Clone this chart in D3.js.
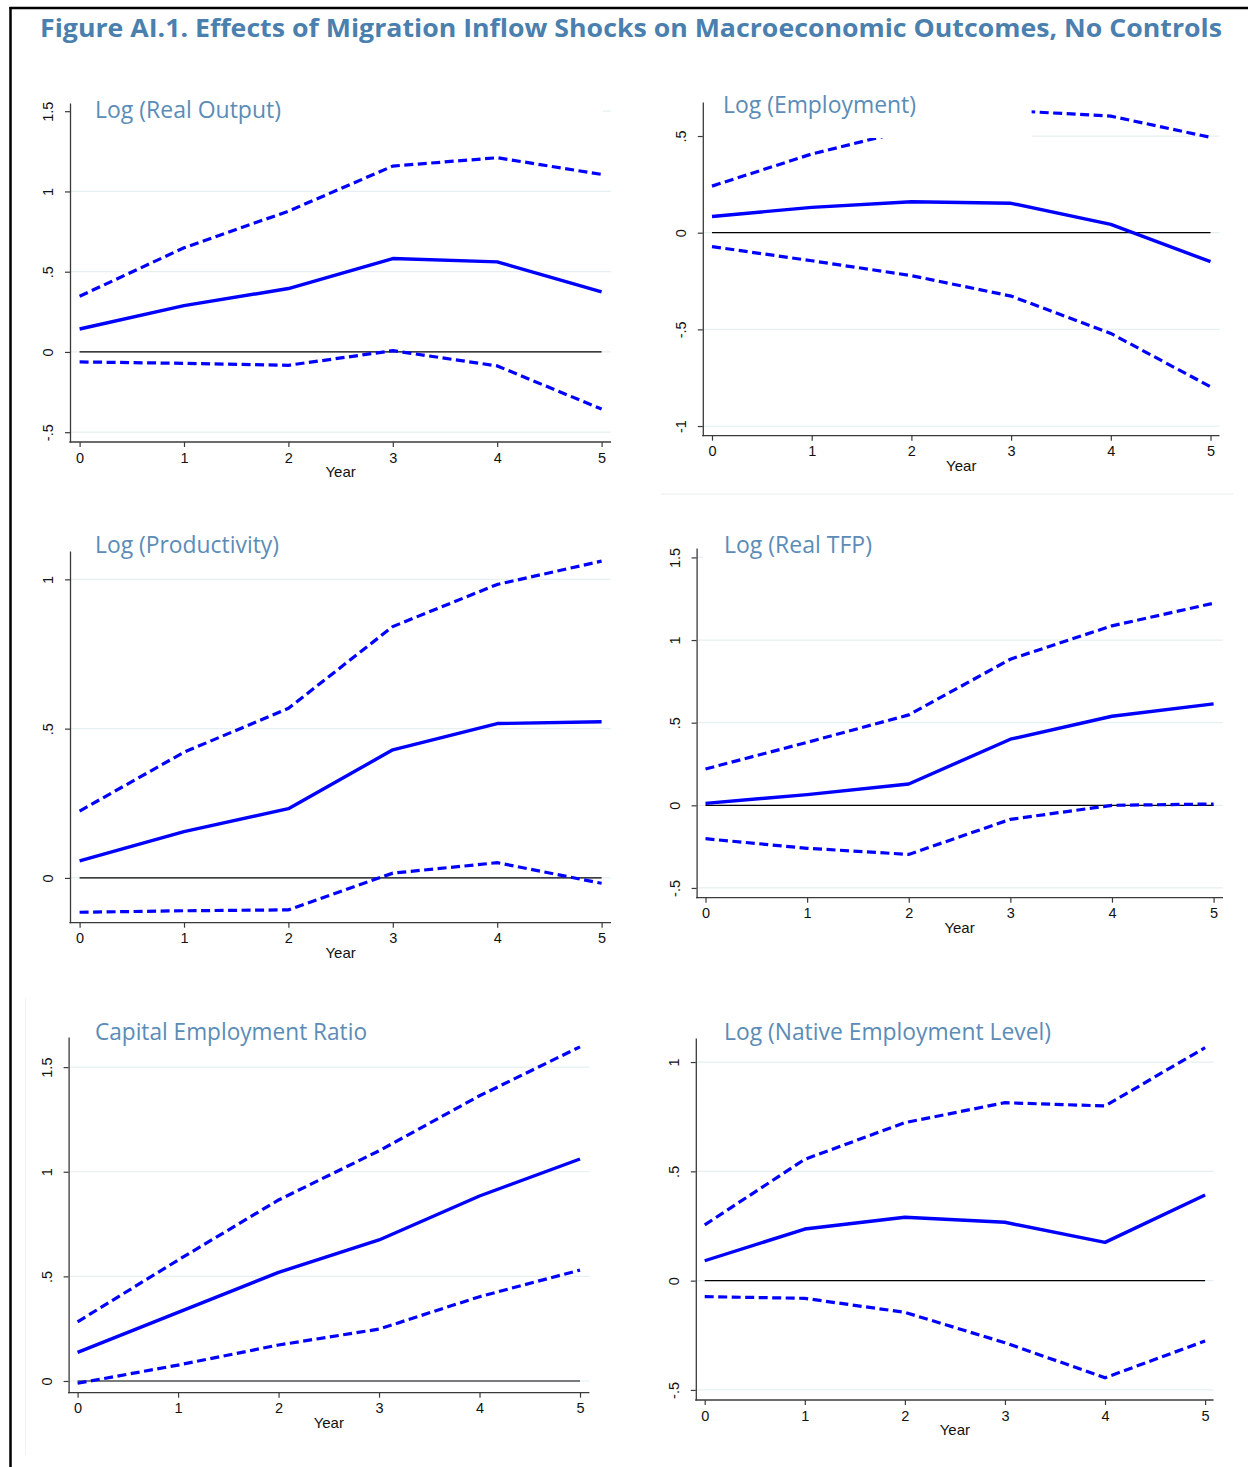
<!DOCTYPE html>
<html>
<head>
<meta charset="utf-8">
<script src="https://cdn.jsdelivr.net/npm/d3@7"></script>
<style>
  html, body { margin: 0; padding: 0; background: #ffffff; }
  svg { display: block; }
</style>
</head>
<body>
<script>
// ---------------- DATA ----------------
const years = [0, 1, 2, 3, 4, 5];

const figureTitle = "Figure AI.1. Effects of Migration Inflow Shocks on Macroeconomic Outcomes, No Controls";
const panelTitles = [
  "Log (Real Output)",
  "Log (Employment)",
  "Log (Productivity)",
  "Log (Real TFP)",
  "Capital Employment Ratio",
  "Log (Native Employment Level)"
];
const xAxisLabel = "Year";

const realOutputEst   = [0.143, 0.289, 0.395, 0.582, 0.561, 0.374];
const realOutputUpper = [0.347, 0.649, 0.877, 1.158, 1.210, 1.106];
const realOutputLower = [-0.062, -0.071, -0.083, 0.008, -0.087, -0.356];

const employmentEst   = [0.084, 0.131, 0.160, 0.152, 0.043, -0.150];
const employmentUpper = [0.241, 0.407, 0.534, 0.631, 0.603, 0.493];
const employmentLower = [-0.072, -0.145, -0.222, -0.328, -0.521, -0.797];

const productivityEst   = [0.057, 0.155, 0.232, 0.429, 0.517, 0.523];
const productivityUpper = [0.224, 0.421, 0.568, 0.842, 0.983, 1.061];
const productivityLower = [-0.115, -0.110, -0.107, 0.016, 0.051, -0.018];

const tfpEst   = [0.012, 0.065, 0.129, 0.400, 0.539, 0.614];
const tfpUpper = [0.220, 0.381, 0.547, 0.884, 1.086, 1.223];
const tfpLower = [-0.202, -0.260, -0.297, -0.085, 0.000, 0.008];

const capEmpEst   = [0.137, 0.328, 0.519, 0.674, 0.884, 1.061];
const capEmpUpper = [0.283, 0.578, 0.865, 1.100, 1.363, 1.597];
const capEmpLower = [-0.011, 0.076, 0.172, 0.248, 0.403, 0.530];

const nativeEst   = [0.091, 0.236, 0.290, 0.267, 0.175, 0.392];
const nativeUpper = [0.255, 0.555, 0.723, 0.814, 0.799, 1.066];
const nativeLower = [-0.073, -0.081, -0.145, -0.284, -0.444, -0.276];

const yTicksList = [
  [-0.5, 0, 0.5, 1, 1.5],
  [-1, -0.5, 0, 0.5],
  [0, 0.5, 1],
  [-0.5, 0, 0.5, 1, 1.5],
  [0, 0.5, 1, 1.5],
  [-0.5, 0, 0.5, 1]
];
const yDomains = [
  [-0.561, 1.551],
  [-1.050, 0.676],
  [-0.150, 1.095],
  [-0.559, 1.557],
  [-0.056, 1.644],
  [-0.546, 1.110]
];
const seriesList = [
  [realOutputEst, realOutputUpper, realOutputLower],
  [employmentEst, employmentUpper, employmentLower],
  [productivityEst, productivityUpper, productivityLower],
  [tfpEst, tfpUpper, tfpLower],
  [capEmpEst, capEmpUpper, capEmpLower],
  [nativeEst, nativeUpper, nativeLower]
];

// ---------------- LAYOUT ----------------
const W = 1248, H = 1467;
const layouts = [
  { yAxisX: 70,    x0: 79.6,  x5: 601.6,  xEnd: 611,    top: 103,  bottom: 442,    titleX: 95,  titleY: 118,  titleW: 186,
    mask: { x: 71, y: 60, w: 532, h: 53 } },
  { yAxisX: 702.8, x0: 712,   x5: 1210.5, xEnd: 1219.5, top: 102,  bottom: 435.7,  titleX: 723, titleY: 113,  titleW: 193,
    mask: { x: 703.6, y: 60, w: 328, h: 78 } },
  { yAxisX: 70,    x0: 79.6,  x5: 601.6,  xEnd: 611,    top: 551,  bottom: 922.7,  titleX: 95,  titleY: 553,  titleW: 184,
    mask: null },
  { yAxisX: 696.6, x0: 705.5, x5: 1213.6, xEnd: 1223,   top: 548,  bottom: 897.7,  titleX: 724, titleY: 553,  titleW: 148,
    mask: { x: 703, y: 520, w: 522, h: 40 } },
  { yAxisX: 68.6,  x0: 77.6,  x5: 580,    xEnd: 589.4,  top: 1037, bottom: 1392.7, titleX: 95,  titleY: 1040, titleW: 272,
    mask: null },
  { yAxisX: 695.8, x0: 704.7, x5: 1205.1, xEnd: 1213.6, top: 1038, bottom: 1400,   titleX: 724, titleY: 1040, titleW: 327,
    mask: null }
];

const BLUE = "#0000ff";
const GRID = "#e6eff2";
const AXIS = "#3a3a3a";
const TITLE_BLUE = "#4a7fae";
const PANEL_BLUE = "#5b8cb7";
const TICK_FONT = "'Liberation Sans', Arial, sans-serif";
const TITLE_FONT = "'Open Sans', 'Noto Sans', sans-serif";

const fmt = d => d === 0 ? "0" : String(d).replace(/^(-?)0\./, "$1.");

const svg = d3.select("body").append("svg")
  .attr("width", W).attr("height", H)
  .attr("viewBox", `0 0 ${W} ${H}`);

svg.append("rect").attr("width", W).attr("height", H).attr("fill", "#ffffff");

// faint separators
svg.append("line").attr("x1", 661).attr("x2", 1233).attr("y1", 494).attr("y2", 494)
  .attr("stroke", "#e9eef0").attr("stroke-width", 1);
svg.append("line").attr("x1", 25.5).attr("x2", 25.5).attr("y1", 998).attr("y2", 1455)
  .attr("stroke", "#eef2f3").attr("stroke-width", 1);

// figure border (top + left)
svg.append("line").attr("x1", 9.5).attr("x2", W).attr("y1", 8).attr("y2", 8)
  .attr("stroke", "#000").attr("stroke-width", 2.5);
svg.append("line").attr("x1", 10.5).attr("x2", 10.5).attr("y1", 7).attr("y2", H)
  .attr("stroke", "#000").attr("stroke-width", 2.5);

// main title
svg.append("text")
  .attr("x", 40).attr("y", 37)
  .attr("font-family", TITLE_FONT)
  .attr("font-weight", 700)
  .attr("font-size", 25.5)
  .attr("fill", TITLE_BLUE)
  .attr("textLength", 1182)
  .attr("lengthAdjust", "spacingAndGlyphs")
  .text(figureTitle);

layouts.forEach((L, i) => {
  const g = svg.append("g");
  const x = d3.scaleLinear().domain([0, 5]).range([L.x0, L.x5]);
  const y = d3.scaleLinear().domain(yDomains[i]).range([L.bottom, L.top]);
  const ticks = yTicksList[i];

  // gridlines
  g.append("g").selectAll("line").data(ticks).join("line")
    .attr("x1", L.yAxisX).attr("x2", L.xEnd)
    .attr("y1", d => y(d)).attr("y2", d => y(d))
    .attr("stroke", GRID).attr("stroke-width", 1.2);

  // zero reference line
  g.append("line")
    .attr("x1", x(0)).attr("x2", x(5))
    .attr("y1", y(0)).attr("y2", y(0))
    .attr("stroke", "#000").attr("stroke-width", 1.2);

  // series
  const line = d3.line().x((d, j) => x(years[j])).y(d => y(d));
  const [est, up, lo] = seriesList[i];
  [up, lo].forEach(s => {
    g.append("path").datum(s).attr("d", line)
      .attr("fill", "none").attr("stroke", BLUE)
      .attr("stroke-width", 3.2)
      .attr("stroke-dasharray", "9,4.5");
  });
  g.append("path").datum(est).attr("d", line)
    .attr("fill", "none").attr("stroke", BLUE)
    .attr("stroke-width", 3.4)
    .attr("stroke-linejoin", "round");

  // mask (white title box region)
  if (L.mask) {
    g.append("rect").attr("x", L.mask.x).attr("y", L.mask.y)
      .attr("width", L.mask.w).attr("height", L.mask.h).attr("fill", "#ffffff");
  }

  // y axis
  const yAx = g.append("g")
    .attr("transform", `translate(${L.yAxisX},0)`)
    .call(d3.axisLeft(y).tickValues(ticks).tickFormat(fmt).tickSize(5).tickSizeOuter(0));
  yAx.select(".domain").attr("stroke", AXIS).attr("stroke-width", 1.3);
  yAx.selectAll(".tick line").attr("stroke", AXIS).attr("stroke-width", 1.2);
  yAx.selectAll(".tick text")
    .attr("x", null).attr("dy", null)
    .attr("transform", "translate(-17,0) rotate(-90)")
    .attr("text-anchor", "middle")
    .attr("font-family", TICK_FONT)
    .attr("font-size", 14.5)
    .attr("fill", "#111");

  // x axis
  const xAx = g.append("g")
    .attr("transform", `translate(0,${L.bottom})`)
    .call(d3.axisBottom(x).tickValues(years).tickFormat(d3.format("d")).tickSize(5).tickSizeOuter(0));
  xAx.select(".domain").remove();
  xAx.append("line").attr("x1", L.yAxisX - 0.6).attr("x2", L.xEnd)
    .attr("y1", 0).attr("y2", 0).attr("stroke", AXIS).attr("stroke-width", 1.3);
  xAx.selectAll(".tick line").attr("stroke", AXIS).attr("stroke-width", 1.2);
  xAx.selectAll(".tick text")
    .attr("y", 20.5).attr("dy", null)
    .attr("font-family", TICK_FONT)
    .attr("font-size", 14.5)
    .attr("fill", "#111");

  // x axis title
  g.append("text")
    .attr("x", (x(0) + x(5)) / 2)
    .attr("y", L.bottom + 35)
    .attr("text-anchor", "middle")
    .attr("font-family", TICK_FONT)
    .attr("font-size", 15)
    .attr("fill", "#111")
    .text(xAxisLabel);

  // panel title
  g.append("text")
    .attr("x", L.titleX).attr("y", L.titleY)
    .attr("font-family", TITLE_FONT)
    .attr("font-size", 23)
    .attr("fill", PANEL_BLUE)
    .attr("textLength", L.titleW)
    .attr("lengthAdjust", "spacingAndGlyphs")
    .text(panelTitles[i]);
});
</script>
</body>
</html>
